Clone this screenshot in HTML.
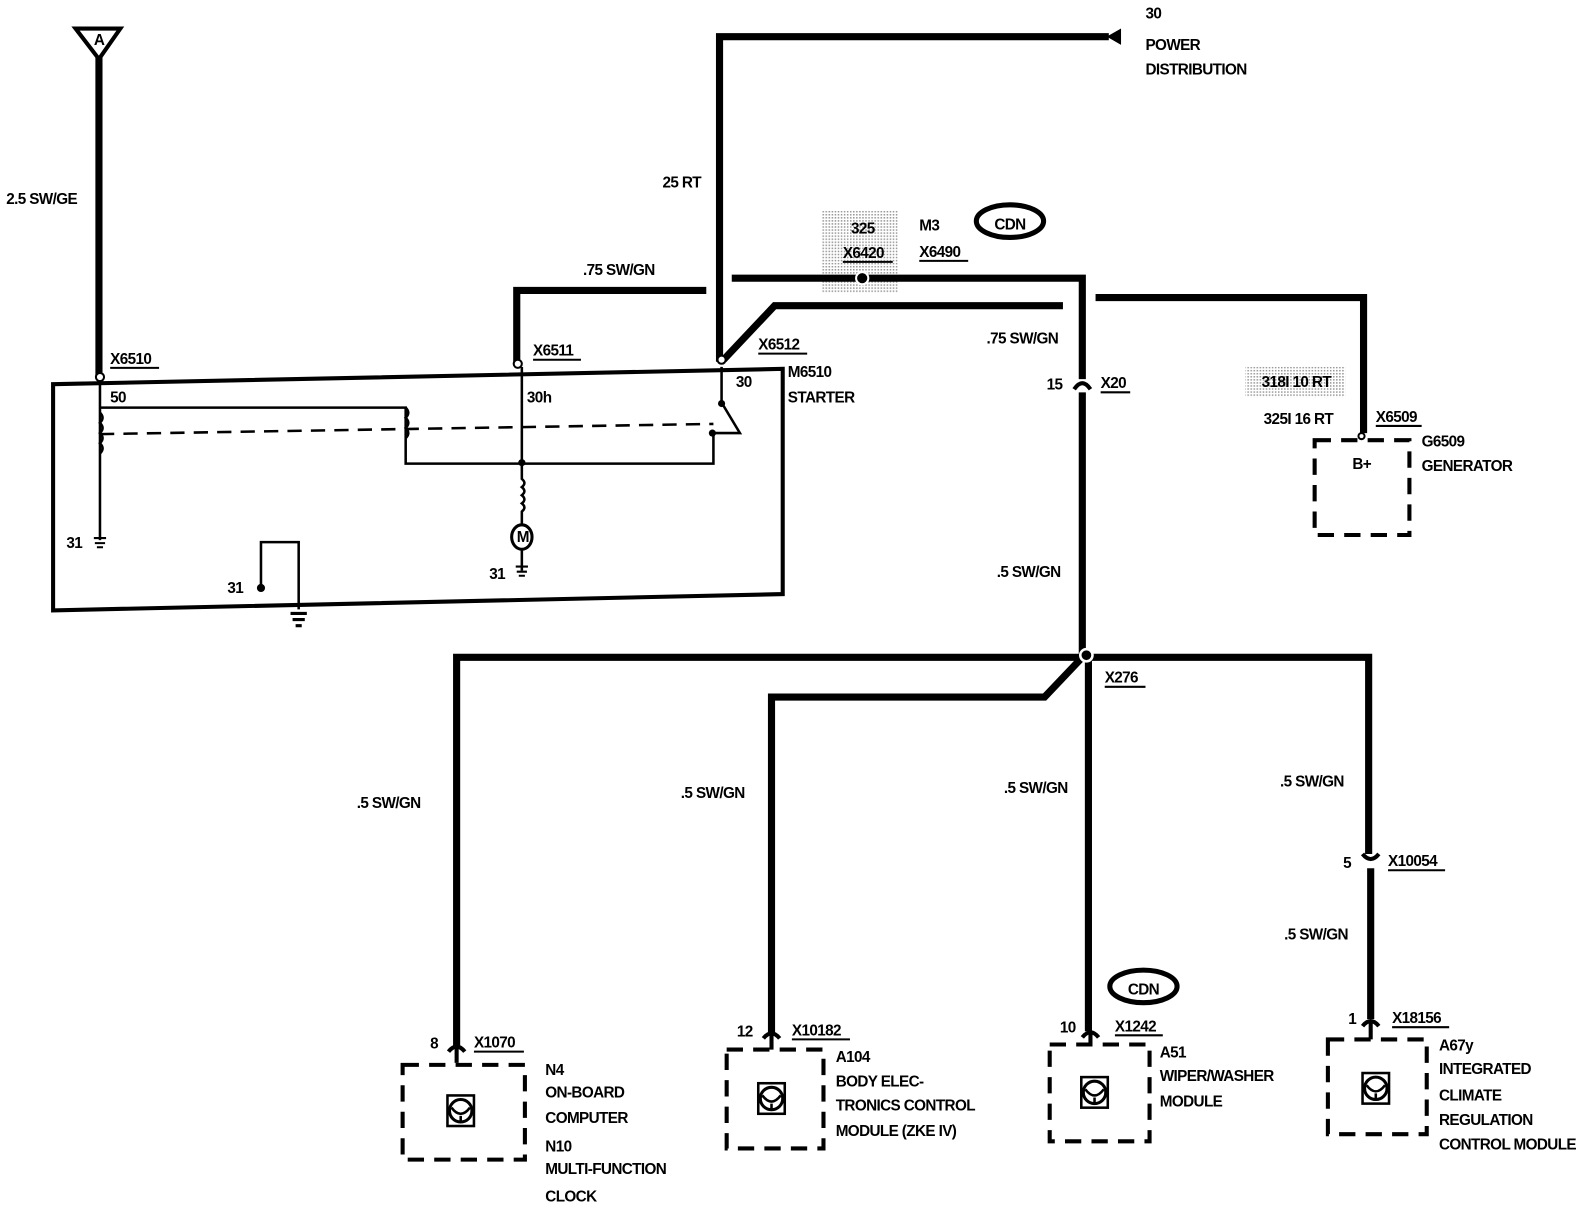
<!DOCTYPE html>
<html><head><meta charset="utf-8"><style>
html,body{margin:0;padding:0;background:#fff}
svg{display:block}
text{font-family:"Liberation Sans",Arial,sans-serif;font-weight:bold;font-size:15px;fill:#000;letter-spacing:-0.6px}
.w{stroke:#000;stroke-width:7;fill:none}
.t{stroke:#000;stroke-width:2.5;fill:none}
.b{stroke:#000;stroke-width:4;fill:none}
.d{stroke:#000;stroke-width:4;fill:none;stroke-dasharray:16 10}
.u{stroke:#000;stroke-width:2}
</style></head><body>
<svg width="1596" height="1232" viewBox="0 0 1566 1209" xmlns="http://www.w3.org/2000/svg">
<defs>
<pattern id="dots" width="3" height="3" patternUnits="userSpaceOnUse"><rect width="3" height="3" fill="#fff"/><rect width="1.5" height="1.5" fill="#999"/></pattern>
<g id="ic"><rect x="-13" y="-15" width="26" height="30" fill="none" stroke="#000" stroke-width="2.5"/><circle cx="0" cy="0" r="11" fill="none" stroke="#000" stroke-width="3"/><path d="M-9,-3 Q0,9 9,-3 M0,5 V12" stroke="#000" stroke-width="2.5" fill="none"/></g>
</defs>
<!-- A antenna -->
<path d="M74,28 L118,28 L97,58 Z" fill="none" stroke="#000" stroke-width="4"/>
<text x="92" y="44" font-size="11">A</text>
<line class="w" x1="97" y1="56" x2="97" y2="370"/>
<text x="6" y="200">2.5 SW/GE</text>
<!-- 25 RT -->
<path class="w" d="M706,355 V36 H1088"/>
<path d="M1086,36 L1100,28 L1100,44 Z" fill="#000"/>
<text x="1124" y="18">30</text><text x="1124" y="49">POWER</text><text x="1124" y="73">DISTRIBUTION</text>
<text x="650" y="184">25 RT</text>
<!-- X6511 -->
<path class="w" d="M507,355 V285 H693"/>
<text x="572" y="270">.75 SW/GN</text>
<!-- diagonal -->
<path class="w" d="M710,353 L760,300 H1043"/>
<!-- M3 wire -->
<rect x="806" y="207" width="75" height="81" fill="url(#dots)"/>
<path class="w" d="M718,273 H1062 V372"/>
<circle cx="846" cy="273" r="6" fill="#000" stroke="#fff" stroke-width="2"/>
<text x="835" y="229">325</text><text x="827" y="253">X6420</text><line class="u" x1="827" y1="257" x2="876" y2="257"/>
<text x="902" y="226">M3</text><text x="902" y="252">X6490</text><line class="u" x1="902" y1="256" x2="950" y2="256"/>
<ellipse cx="991" cy="217" rx="33" ry="16" fill="none" stroke="#000" stroke-width="5"/><text x="991" y="225" font-size="22" letter-spacing="-1" text-anchor="middle">CDN</text>
<!-- to generator -->
<path class="w" d="M1075,292 H1338 V425"/>
<text x="968" y="337">.75 SW/GN</text>
<!-- X20 connector -->
<path class="b" d="M1054,382 Q1062,370 1070,382"/>
<text x="1027" y="382">15</text><text x="1080" y="381">X20</text><line class="u" x1="1080" y1="385" x2="1109" y2="385"/>
<line class="w" x1="1062" y1="385" x2="1062" y2="643"/>
<text x="978" y="566">.5 SW/GN</text>
<!-- generator -->
<rect x="1222" y="360" width="98" height="30" fill="url(#dots)"/>
<text x="1238" y="380">318I 10 RT</text>
<text x="1240" y="416">325I  16 RT</text>
<text x="1350" y="414">X6509</text><line class="u" x1="1350" y1="418" x2="1395" y2="418"/>
<circle cx="1336" cy="428" r="3" fill="#fff" stroke="#000" stroke-width="2"/>
<rect class="d" x="1290" y="432" width="93" height="93"/>
<text x="1327" y="460">B+</text>
<text x="1395" y="438">G6509</text><text x="1395" y="462">GENERATOR</text>
<!-- starter box -->
<path class="b" d="M52,377 L768,362 V583 L52,599 Z"/>
<circle cx="98" cy="370" r="4" fill="#fff" stroke="#000" stroke-width="2"/>
<circle cx="508" cy="357" r="4" fill="#fff" stroke="#000" stroke-width="2"/>
<circle cx="708" cy="353" r="4" fill="#fff" stroke="#000" stroke-width="2"/>
<text x="108" y="357">X6510</text><line class="u" x1="108" y1="361" x2="156" y2="361"/>
<text x="523" y="349">X6511</text><line class="u" x1="523" y1="353" x2="570" y2="353"/>
<text x="744" y="343">X6512</text><line class="u" x1="744" y1="347" x2="792" y2="347"/>
<text x="773" y="370">M6510</text><text x="773" y="395">STARTER</text>
<text x="108" y="395">50</text><text x="517" y="395">30h</text><text x="722" y="380">30</text>
<path class="t" d="M98,375 V530"/>
<path class="t" d="M98,400 H398 V455 H700 V425"/>
<path class="t" d="M98,405 q5,5 0,10 q5,5 0,10 q5,5 0,10 q5,5 0,10"/>
<path class="t" d="M398,400 q5,5 0,10 q5,5 0,10 q5,5 0,10"/>
<path d="M98,426 L700,416" stroke="#000" stroke-width="2.5" stroke-dasharray="14 9" fill="none"/>
<path class="t" d="M708,360 V395 L726,425 L700,425"/>
<circle cx="708" cy="396" r="3.5" fill="#000"/><circle cx="699" cy="425" r="3.5" fill="#000"/>
<path class="t" d="M512,360 V470 q5,4 0,8 q5,4 0,8 q5,4 0,8 q5,4 0,8 V516"/>
<circle cx="512" cy="454" r="3.5" fill="#000"/>
<ellipse cx="512" cy="527" rx="10" ry="12" fill="none" stroke="#000" stroke-width="3"/>
<text x="507" y="532" font-size="11">M</text>
<path class="t" d="M512,539 V560"/>
<path d="M506,556 H518 M507,561 H517 M509,565 H515" stroke="#000" stroke-width="2"/>
<text x="480" y="568">31</text>
<path d="M92,528 H104 M93,533 H103 M95,537 H101" stroke="#000" stroke-width="2"/>
<text x="65" y="538">31</text>
<path class="t" d="M256,575 V532 H293 V598"/>
<circle cx="256" cy="577" r="4" fill="#000"/>
<text x="223" y="582">31</text>
<path d="M285,602 H301 M287,608 H299 M290,614 H296" stroke="#000" stroke-width="3"/>
<!-- junction X276 -->
<path class="w" d="M448,1026 V645 H1343 V838"/>
<path class="w" d="M757,1013 V684 H1025 L1062,645"/>
<line class="w" x1="1068" y1="645" x2="1068" y2="1012"/>
<circle cx="1066" cy="643" r="6" fill="#000" stroke="#fff" stroke-width="2.5"/>
<text x="1084" y="670">X276</text><line class="u" x1="1084" y1="674" x2="1124" y2="674"/>
<text x="350" y="793">.5 SW/GN</text>
<text x="668" y="783">.5 SW/GN</text>
<text x="985" y="778">.5 SW/GN</text>
<text x="1256" y="772">.5 SW/GN</text>
<!-- X10054 -->
<path class="b" d="M1337,838 Q1345,848 1353,838"/>
<line class="w" x1="1345" y1="852" x2="1345" y2="1000"/>
<text x="1318" y="852">5</text><text x="1362" y="850">X10054</text><line class="u" x1="1362" y1="854" x2="1418" y2="854"/>
<text x="1260" y="922">.5 SW/GN</text>
<!-- module connectors -->
<path class="b" d="M440,1032 Q448,1022 456,1032 M448,1028 V1043"/>
<text x="422" y="1029">8</text><text x="465" y="1028">X1070</text><line class="u" x1="465" y1="1032" x2="514" y2="1032"/>
<path class="b" d="M749,1019 Q757,1009 765,1019 M757,1015 V1030"/>
<text x="723" y="1017">12</text><text x="777" y="1016">X10182</text><line class="u" x1="777" y1="1020" x2="834" y2="1020"/>
<path class="b" d="M1062,1018 Q1070,1008 1078,1018 M1070,1014 V1025"/>
<text x="1040" y="1013">10</text><text x="1094" y="1012">X1242</text><line class="u" x1="1094" y1="1016" x2="1141" y2="1016"/>
<ellipse cx="1122" cy="968" rx="33" ry="16" fill="none" stroke="#000" stroke-width="5"/><text x="1122" y="976" font-size="22" letter-spacing="-1" text-anchor="middle">CDN</text>
<path class="b" d="M1337,1007 Q1345,997 1353,1007 M1345,1003 V1020"/>
<text x="1323" y="1005">1</text><text x="1366" y="1004">X18156</text><line class="u" x1="1366" y1="1008" x2="1422" y2="1008"/>
<!-- modules -->
<rect class="d" x="395" y="1045" width="120" height="93"/><use href="#ic" x="452" y="1090"/>
<text x="535" y="1055">N4</text><text x="535" y="1077">ON-BOARD</text><text x="535" y="1102">COMPUTER</text><text x="535" y="1130">N10</text><text x="535" y="1152">MULTI-FUNCTION</text><text x="535" y="1179">CLOCK</text>
<rect class="d" x="713" y="1030" width="95" height="97"/><use href="#ic" x="757" y="1078"/>
<text x="820" y="1042">A104</text><text x="820" y="1066">BODY ELEC-</text><text x="820" y="1090">TRONICS CONTROL</text><text x="820" y="1115">MODULE (ZKE IV)</text>
<rect class="d" x="1030" y="1025" width="98" height="95"/><use href="#ic" x="1074" y="1072"/>
<text x="1138" y="1038">A51</text><text x="1138" y="1061">WIPER/WASHER</text><text x="1138" y="1086">MODULE</text>
<rect class="d" x="1303" y="1020" width="97" height="93"/><use href="#ic" x="1350" y="1068"/>
<text x="1412" y="1031">A67y</text><text x="1412" y="1054">INTEGRATED</text><text x="1412" y="1080">CLIMATE</text><text x="1412" y="1104">REGULATION</text><text x="1412" y="1128">CONTROL MODULE</text>
</svg>
</body></html>
